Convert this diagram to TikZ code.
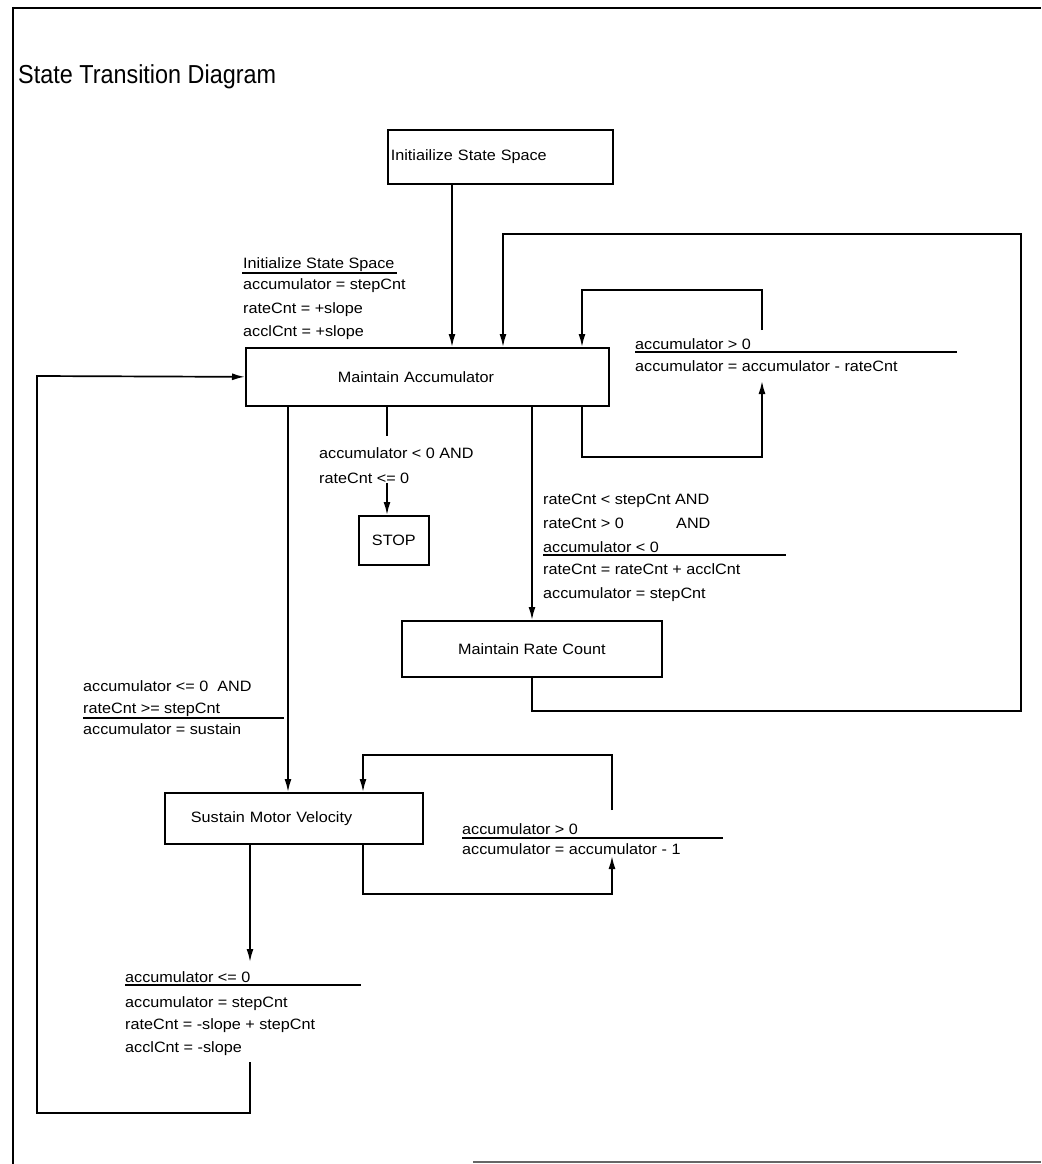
\documentclass[tikz,border=0pt]{standalone}
\usepackage{fontspec}
\setmainfont{Liberation Sans}[FakeStretch=1.08]
\newfontfamily\titlefont{Liberation Sans}[FakeStretch=0.9]
\usetikzlibrary{arrows.meta}
\begin{document}
\begin{tikzpicture}[x=1pt,y=-1pt,
  font=\fontsize{15}{18}\selectfont,
  box/.style={draw, line width=1.7pt, anchor=north west, inner ysep=0pt},
  lbl/.style={anchor=base west, inner sep=0pt},
  conn/.style={line width=1.7pt},
  arr/.style={line width=1.7pt, -{Latex[length=13pt,width=7pt]}},
  rulel/.style={line width=1.4pt},
  frame/.style={line width=2.6pt}]
\useasboundingbox (0,0) rectangle (1041,1164);

% frame and title
\draw[frame] (13,8) -- (1041,8);
\draw[frame] (13,7) -- (13,1164);
\draw[line width=2pt, black!60] (473,1162) -- (1041,1162);
\node[lbl, font=\titlefont\fontsize{26}{30}\selectfont] (title) at (18,84) {State Transition Diagram};

% states
\node[box, minimum height=54pt, inner xsep=3pt, text width=219pt, align=left] (init) at (387,129) {Initiailize State Space};
\node[box, minimum height=58pt, inner xsep=92pt, text width=179pt, align=left] (ma) at (245,347) {Maintain Accumulator};
\node[box, minimum width=70pt, minimum height=49pt, inner xsep=0pt] (stop) at (358,515) {STOP};
\node[box, minimum width=260pt, minimum height=56pt, inner xsep=0pt] (mrc) at (401,620) {Maintain Rate Count};
\node[box, minimum height=51pt, inner xsep=26pt, text width=206pt, align=left] (smv) at (164,792) {Sustain Motor Velocity};

% column helpers
\coordinate (xA) at (452,0);
\coordinate (xB) at (503,0);
\coordinate (xC) at (582,0);
\coordinate (xS) at (387,0);
\coordinate (xR) at (532,0);
\coordinate (xV) at (288,0);
\coordinate (xW) at (363,0);
\coordinate (xG) at (250,0);

% free ends
\coordinate (ma1) at (762,381);
\coordinate (ma2) at (762,330);
\coordinate (s1) at (387,436);
\coordinate (s2) at (387,483);
\coordinate (v1) at (612,856);
\coordinate (v2) at (612,810);
\coordinate (g1) at (250,962);
\coordinate (g2) at (250,1062);

% connectors
\draw[arr] (init.south -| xA) -- (ma.north -| xA);
\draw[arr] (mrc.south -| xR) -- (532,711) -- (1021,711) -- (1021,234) -- (503,234) -- (ma.north -| xB);
\draw[arr] (ma.south -| xC) -- (582,457) -- (762,457) -- (ma1);
\draw[arr] (ma2) -- (762,290) -- (582,290) -- (ma.north -| xC);
\draw[conn] (ma.south -| xS) -- (s1);
\draw[arr] (s2) -- (stop.north -| xS);
\draw[arr] (ma.south -| xR) -- (mrc.north -| xR);
\draw[arr] (ma.south -| xV) -- (smv.north -| xV);
\draw[arr] (smv.south -| xW) -- (363,894) -- (612,894) -- (v1);
\draw[arr] (v2) -- (612,755) -- (363,755) -- (smv.north -| xW);
\draw[arr] (smv.south -| xG) -- (g1);
\draw[arr] (g2) -- (250,1113) -- (37,1113) -- (37,376) -- (ma.west);

% label A
\node[lbl] (a1) at (243,268) {Initialize State Space};
\draw[rulel] (242,273) -- (397,273);
\node[lbl] (a2) at (243,289) {accumulator = stepCnt};
\node[lbl] (a3) at (243,313) {rateCnt = +slope};
\node[lbl] (a4) at (243,336) {acclCnt = +slope};

% label B
\node[lbl] (b1) at (635,349) {accumulator > 0};
\draw[rulel] (635,352) -- (957,352);
\node[lbl] (b2) at (635,371) {accumulator = accumulator - rateCnt};

% label C
\node[lbl] (c1) at (319,458) {accumulator < 0 AND};
\node[lbl] (c2) at (319,483) {rateCnt <= 0};

% label D
\node[lbl] (d1) at (543,504) {rateCnt < stepCnt AND};
\node[lbl] (d2) at (543,528) {rateCnt > 0};
\node[lbl] (d2b) at (676,528) {AND};
\node[lbl] (d3) at (543,552) {accumulator < 0};
\draw[rulel] (543,555) -- (786,555);
\node[lbl] (d4) at (543,574) {rateCnt = rateCnt + acclCnt};
\node[lbl] (d5) at (543,598) {accumulator = stepCnt};

% label E
\node[lbl] (e1) at (83,691) {accumulator <= 0\ \ AND};
\node[lbl] (e2) at (83,713) {rateCnt >= stepCnt};
\draw[rulel] (83,718) -- (284,718);
\node[lbl] (e3) at (83,734) {accumulator = sustain};

% label F
\node[lbl] (f1) at (462,834) {accumulator > 0};
\draw[rulel] (462,838) -- (723,838);
\node[lbl] (f2) at (462,854) {accumulator = accumulator - 1};

% label G
\node[lbl] (g1t) at (125,982) {accumulator <= 0};
\draw[rulel] (125,985) -- (361,985);
\node[lbl] (g2t) at (125,1007) {accumulator = stepCnt};
\node[lbl] (g3t) at (125,1029) {rateCnt = -slope + stepCnt};
\node[lbl] (g4t) at (125,1052) {acclCnt = -slope};
\end{tikzpicture}
\end{document}
